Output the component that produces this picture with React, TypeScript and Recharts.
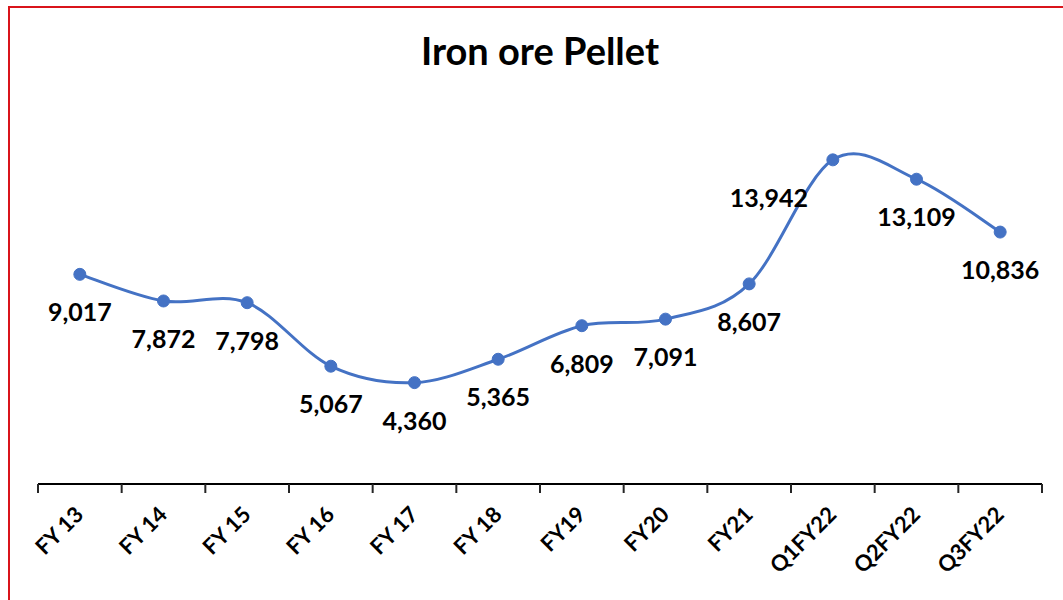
import React from 'react';
import { LineChart, Line, XAxis, YAxis, LabelList } from 'recharts';

const categories = ['FY 13', 'FY 14', 'FY 15', 'FY 16', 'FY 17', 'FY 18', 'FY19', 'FY20', 'FY21', 'Q1FY22', 'Q2FY22', 'Q3FY22'];
const values = [9017, 7872, 7798, 5067, 4360, 5365, 6809, 7091, 8607, 13942, 13109, 10836];
// horizontal nudges for individually moved data labels (px)
const labelDx = [0, 0, 0, 0, 0, 0, 0, 0, 0, -64, 0, 0];

const data = categories.map((name, i) => ({ name, value: values[i] }));

const BLUE = '#4472C4';
const FONT = 'Lato, "Open Sans", sans-serif';
const BAND_HALF = 1004 / 12 / 2;

// Excel-like smoothed line (Catmull-Rom as cubic Bezier)
const excelCurve: any = (context: any) => {
  let pts: number[][] = [];
  return {
    areaStart() {},
    areaEnd() {},
    lineStart() { pts = []; },
    point(x: number, y: number) { pts.push([+x, +y]); },
    lineEnd() {
      const n = pts.length;
      if (!n) return;
      context.moveTo(pts[0][0], pts[0][1]);
      for (let i = 0; i < n - 1; i++) {
        const p0 = pts[i - 1] || pts[i];
        const p1 = pts[i];
        const p2 = pts[i + 1];
        const p3 = pts[i + 2] || pts[i + 1];
        context.bezierCurveTo(
          p1[0] + (p2[0] - p0[0]) / 6, p1[1] + (p2[1] - p0[1]) / 6,
          p2[0] - (p3[0] - p1[0]) / 6, p2[1] - (p3[1] - p1[1]) / 6,
          p2[0], p2[1]
        );
      }
    },
  };
};

const Tick = (props: any) => {
  const { x, y, payload, index } = props;
  const axisY = y - 4;
  const ex = x + 5;
  const ey = axisY + 32;
  return (
    <g>
      <line x1={x - BAND_HALF} x2={x - BAND_HALF} y1={axisY} y2={axisY + 9} stroke="#262626" strokeWidth={2} />
      {index === categories.length - 1 && (
        <line x1={x + BAND_HALF} x2={x + BAND_HALF} y1={axisY} y2={axisY + 9} stroke="#262626" strokeWidth={2} />
      )}
      <text
        x={ex}
        y={ey}
        textAnchor="end"
        transform={`rotate(-45, ${ex}, ${ey})`}
        fontFamily={FONT}
        fontWeight={700}
        fontSize={22}
        fill="#000"
      >
        {payload.value}
      </text>
    </g>
  );
};

const DataLabel = (props: any) => {
  const { x, y, value, index } = props;
  return (
    <text
      x={x + labelDx[index]}
      y={y + 47}
      textAnchor="middle"
      fontFamily={FONT}
      fontWeight={700}
      fontSize={25}
      fill="#000"
    >
      {Number(value).toLocaleString('en-US')}
    </text>
  );
};

export default function App() {
  return (
    <div style={{ position: 'fixed', left: 0, top: 0, width: 1063, height: 600, overflow: 'hidden', background: '#fff' }}>
      <div
        style={{
          position: 'absolute',
          left: 8,
          top: 6,
          width: 1200,
          height: 800,
          borderTop: '2px solid #d9141b',
          borderLeft: '2px solid #d9141b',
        }}
      />
      <svg style={{ position: 'absolute', left: 0, top: 0 }} width={1063} height={100}>
        <text x={540} y={65} textAnchor="middle" fontFamily={FONT} fontWeight={700} fontSize={38} fill="#000">
          Iron ore Pellet
        </text>
      </svg>
      <div style={{ position: 'absolute', left: 0, top: 0 }}>
        <LineChart width={1063} height={600} data={data} margin={{ top: 112, right: 21, bottom: 36, left: 38 }}>
          <XAxis
            dataKey="name"
            height={80}
            padding={{ left: BAND_HALF, right: BAND_HALF }}
            axisLine={{ stroke: '#000', strokeWidth: 2 }}
            tickLine={false}
            tick={<Tick />}
            interval={0}
            tickMargin={0}
            tickSize={4}
          />
          <YAxis hide domain={[0, 16000]} />
          <Line
            dataKey="value"
            type={excelCurve}
            stroke={BLUE}
            strokeWidth={3}
            dot={{ r: 6, fill: BLUE, stroke: BLUE, strokeWidth: 1 }}
            isAnimationActive={false}
          >
            <LabelList dataKey="value" content={<DataLabel />} />
          </Line>
        </LineChart>
      </div>
    </div>
  );
}
